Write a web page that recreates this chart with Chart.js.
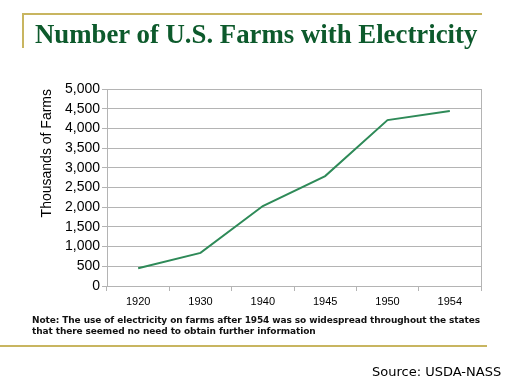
<!DOCTYPE html>
<html>
<head>
<meta charset="utf-8">
<script src="https://cdn.jsdelivr.net/npm/chart.js@4"></script>
<style>
    html, body { margin: 0; padding: 0; background: #fff; }
    #wrap { position: relative; width: 512px; height: 384px; overflow: hidden; }
    #chart { position: absolute; left: 0; top: 0; }
    .rule { position: absolute; background: #c8b560; }
    #title {
        position: absolute; left: 35px; top: 19px;
        font: bold 26.8px "Liberation Serif", serif; color: #0d5a2c;
        white-space: nowrap;
    }
    #note {
        position: absolute; left: 32px; top: 315px;
        font: bold 9px "DejaVu Sans", sans-serif; line-height: 11px; color: #111;
        letter-spacing: -0.1px; white-space: nowrap;
    }
    #source {
        position: absolute; left: 372px; top: 364px;
        font: 13px "DejaVu Sans", sans-serif; color: #000; white-space: nowrap;
    }
</style>
</head>
<body>
<div id="wrap">
    <canvas id="chart" width="512" height="384"></canvas>
    <div class="rule" style="left:22px;top:13px;width:460px;height:2px;"></div>
    <div class="rule" style="left:22px;top:13px;width:2px;height:35px;"></div>
    <div class="rule" style="left:0px;top:345px;width:487px;height:2px;"></div>
    <div id="title">Number of U.S. Farms with Electricity</div>
    <div id="note">Note: The use of electricity on farms after 1954 was so widespread throughout the states<br>that there seemed no need to obtain further information</div>
    <div id="source">Source: USDA-NASS</div>
</div>
<script>
// Farms with electricity, thousands
const years = ['1920', '1930', '1940', '1945', '1950', '1954'];
const farms = [450, 840, 2030, 2790, 4210, 4440];
const yMax = 5000;
const yStep = 500;

const gridColor = '#b4b4b4';

// right edge of the plot box
const frameRight = {
    id: 'frameRight',
    afterDraw(chart) {
        const a = chart.chartArea;
        const ctx = chart.ctx;
        ctx.save();
        ctx.strokeStyle = gridColor;
        ctx.lineWidth = 1;
        ctx.beginPath();
        ctx.moveTo(Math.round(a.right) + 0.5, a.top);
        ctx.lineTo(Math.round(a.right) + 0.5, a.bottom);
        ctx.stroke();
        ctx.restore();
    }
};

new Chart(document.getElementById('chart'), {
    type: 'line',
    data: {
        labels: years,
        datasets: [{
            data: farms,
            borderColor: '#2e8a58',
            borderWidth: 2,
            pointRadius: 0,
            tension: 0,
            fill: false
        }]
    },
    options: {
        responsive: false,
        animation: false,
        layout: { padding: { left: 39, right: 31, top: 89, bottom: 0 } },
        plugins: {
            legend: { display: false },
            title: { display: false },
            tooltip: { enabled: false }
        },
        scales: {
            x: {
                offset: true,
                afterFit: (s) => { s.height = 98; },
                grid: {
                    offset: true,
                    drawOnChartArea: false,
                    drawTicks: true,
                    tickLength: 5,
                    color: gridColor
                },
                border: { color: gridColor },
                ticks: {
                    color: '#000',
                    padding: 4,
                    font: { family: 'Liberation Sans', size: 11 }
                }
            },
            y: {
                min: 0,
                max: yMax,
                afterFit: (s) => { s.width = 68; },
                grid: {
                    color: gridColor,
                    tickLength: 5
                },
                border: { color: gridColor },
                ticks: {
                    stepSize: yStep,
                    autoSkip: false,
                    color: '#000',
                    padding: 2,
                    font: { family: 'Liberation Sans', size: 14 },
                    callback: (v) => v.toLocaleString('en-US')
                },
                title: {
                    display: true,
                    text: 'Thousands of Farms',
                    align: 'end',
                    color: '#000',
                    padding: 0,
                    font: { family: 'Liberation Sans', size: 14 }
                }
            }
        }
    },
    plugins: [frameRight]
});
</script>
</body>
</html>
